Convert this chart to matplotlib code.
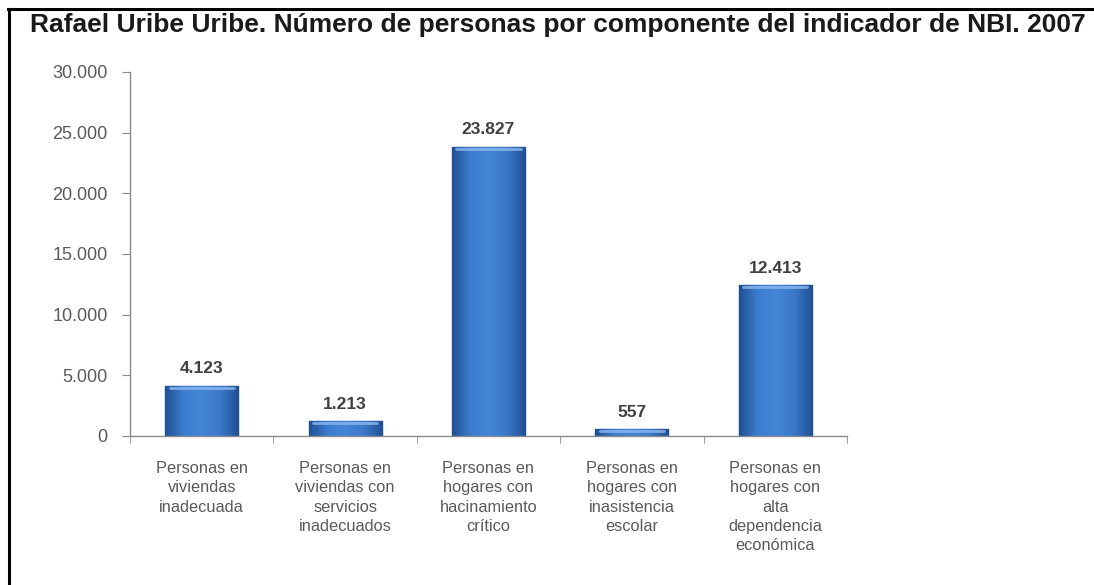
import matplotlib
matplotlib.use("Agg")
import matplotlib.pyplot as plt
import numpy as np
from matplotlib.colors import LinearSegmentedColormap
from matplotlib.lines import Line2D

plt.rcParams['font.family'] = ['Liberation Sans', 'DejaVu Sans']

title = "Rafael Uribe Uribe. Número de personas por componente del indicador de NBI. 2007"
categories = [
    "Personas en\nviviendas\ninadecuada",
    "Personas en\nviviendas con\nservicios\ninadecuados",
    "Personas en\nhogares con\nhacinamiento\ncrítico",
    "Personas en\nhogares con\ninasistencia\nescolar",
    "Personas en\nhogares con\nalta\ndependencia\neconómica",
]
values = [4123, 1213, 23827, 557, 12413]
yticks = [0, 5000, 10000, 15000, 20000, 25000, 30000]

def fmt(v):
    return f"{v:,}".replace(",", ".")

fig = plt.figure(figsize=(10.94, 5.85), dpi=100)
ax = fig.add_axes([130/1094, 1-436/585, 717/1094, 364/585])

x = np.arange(len(values))
bw = 0.51
bars = ax.bar(x, values, width=bw, color='#3570bf', edgecolor='#1d4a86', linewidth=1.0, zorder=2)

cmap = LinearSegmentedColormap.from_list('g', ['#1f4f92', '#3c7dcf', '#4585d6', '#3a78c8', '#1f4f92'])
grad = np.linspace(0, 1, 256).reshape(1, -1)
for b in bars:
    x0, y0 = b.get_x(), b.get_y()
    w, h = b.get_width(), b.get_height()
    im = ax.imshow(grad, cmap=cmap, extent=[x0, x0 + w, y0, y0 + h], aspect='auto', zorder=2.5)
    im.set_clip_path(b)
    ax.plot([x0 + w*0.06, x0 + w*0.94], [y0 + h - 160, y0 + h - 160], color='#8fbaf0', lw=2.0,
            solid_capstyle='round', zorder=3, alpha=0.8)

for xi, v in zip(x, values):
    ax.annotate(fmt(v), (xi, v), xytext=(0, 7), textcoords='offset points',
                ha='center', va='bottom', fontsize=12.5, fontweight='bold', color='#404040')

ax.set_xlim(-0.5, len(values) - 0.5)
ax.set_ylim(0, 30000)
ax.set_yticks(yticks)
ax.set_yticklabels([fmt(t) for t in yticks], fontsize=13, color='#5a5a5a')
ax.set_xticks(x)
ax.set_xticklabels(categories, fontsize=11.8, color='#5a5a5a', linespacing=1.36)
ax.tick_params(axis='x', length=0, pad=18)
ax.set_xticks(np.arange(-0.5, len(values)), minor=True)
ax.tick_params(axis='x', which='minor', length=5, color='#8a8a8a', direction='out')
ax.tick_params(axis='y', length=6, color='#8a8a8a', direction='out', pad=10)

for s in ['top', 'right']:
    ax.spines[s].set_visible(False)
for s in ['left', 'bottom']:
    ax.spines[s].set_color('#8a8a8a')
    ax.spines[s].set_linewidth(1.0)

fig.text(30/1094, 1-25/585, title, fontsize=19, fontweight='bold', color='#1a1a1a',
         ha='left', va='center')

fig.add_artist(Line2D([8/1094, 1], [1-9/585, 1-9/585], color='black', lw=2.2, transform=fig.transFigure))
fig.add_artist(Line2D([9/1094, 9/1094], [0, 1-9/585], color='black', lw=2.2, transform=fig.transFigure))

fig.savefig('out.png', dpi=100, facecolor='white')
